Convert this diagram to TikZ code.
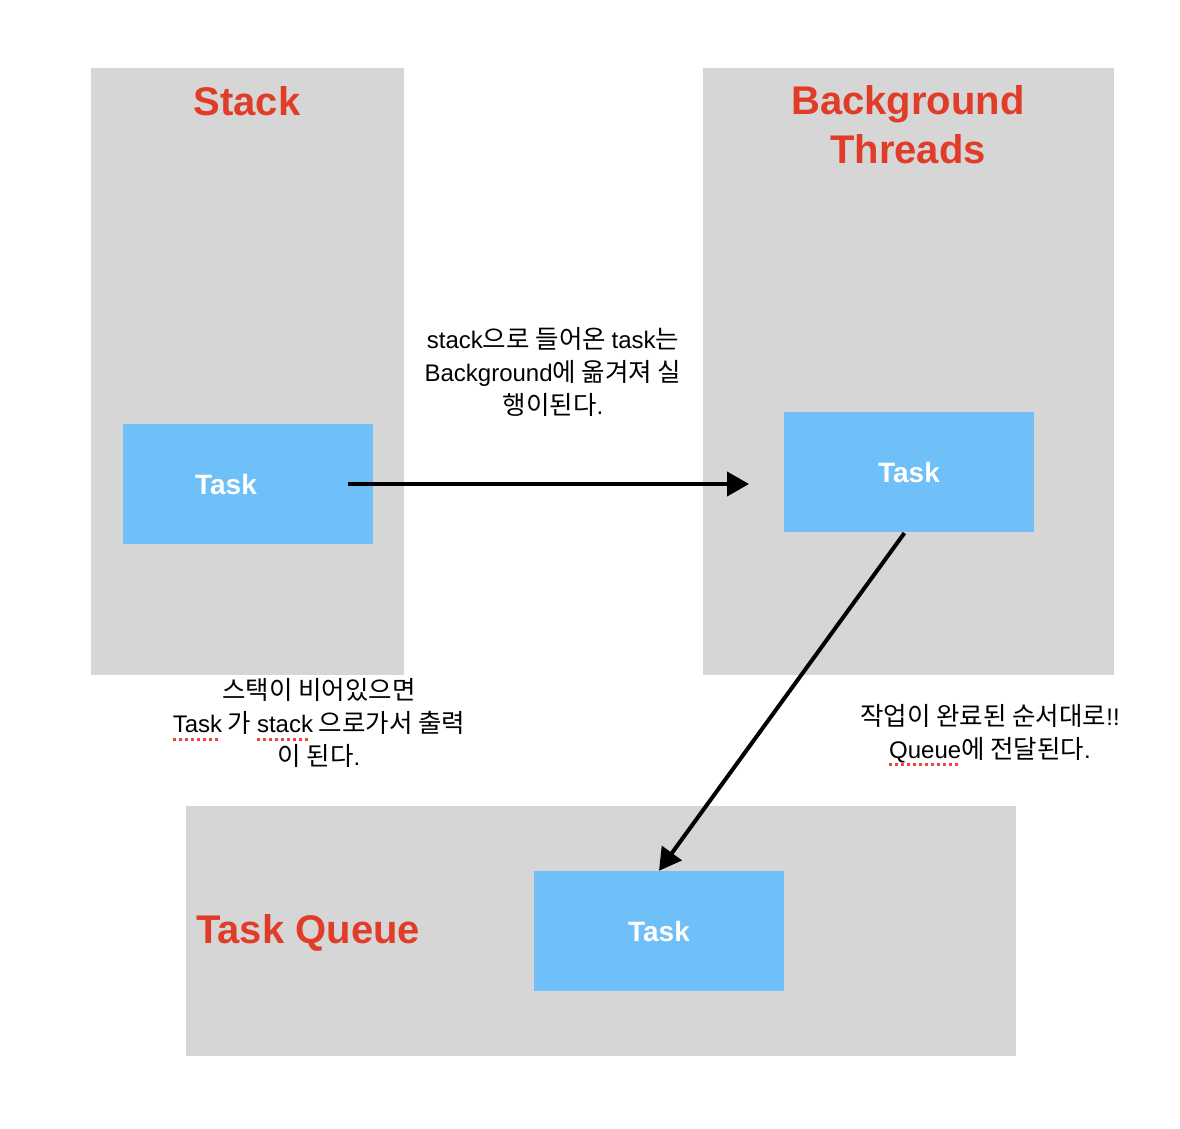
\documentclass[tikz,border=0pt]{standalone}
\usepackage{fontspec}
\setmainfont{Liberation Sans}
\newfontfamily\kr{Noto Sans CJK KR}
\newfontfamily\latfam{Liberation Sans}
\newcommand\lat{\latfam\fontsize{24}{33}\selectfont}
\usetikzlibrary{arrows.meta}
\definecolor{panelgray}{HTML}{D6D6D6}
\definecolor{taskblue}{HTML}{6FBFF8}
\definecolor{titlered}{HTML}{E03C28}
\definecolor{sqred}{HTML}{E8493C}
\newcommand\squig[1]{\setbox0\hbox{#1}\rlap{\raisebox{-8pt}{\hbox to \wd0{\color{sqred}\leaders\hbox{\rule{3pt}{3pt}\hskip3pt}\hfill}}}\box0\relax}
\tikzset{
  panel/.style={fill=panelgray, draw=none},
  taskbox/.style={fill=taskblue, draw=none, minimum width=250pt, minimum height=120pt, inner sep=0pt,
    text=white, font=\fontsize{28}{32}\selectfont\bfseries},
  title/.style={text=titlered, font=\fontsize{40}{49}\selectfont\bfseries, align=center, inner sep=0pt},
  note/.style={font=\kr\fontsize{25.5}{33}\selectfont, align=center, inner sep=0pt, text=black},
  conn/.style={line width=4pt, -{Triangle[length=22pt,width=24pt]}}
}
\begin{document}
\begin{tikzpicture}[x=1pt,y=-1pt]
\useasboundingbox (0,0) rectangle (1180,1128);
\fill[white] (0,0) rectangle (1180,1128);
% panels
\fill[panel] (91,68) rectangle (404,675);
\fill[panel] (703,68) rectangle (1114,675);
\fill[panel] (186,806) rectangle (1016,1056);
% titles
\node[title] (ttl1) at (247,101) {Stack};
\node[title] (ttl2) at (908,125) {Background\\Threads};
\node[title, anchor=west] (ttl3) at (196,933) {Task Queue};
% task boxes
\node[taskbox] (stask) at (248,484) {\hspace*{-44pt}Task};
\node[taskbox] (btask) at (909,472) {Task};
\node[taskbox] (qtask) at (659,931) {Task};
% notes
\node[note] (n1) at (553,372) {{\lat stack}으로 들어온 {\lat task}는\\{\lat Background}에 옮겨져 실\\행이된다{\lat .}};
\node[note] (n2) at (319,723) {스택이 비어있으면\\\squig{\lat Task} 가 \squig{\lat stack} 으로가서 출력\\이 된다{\lat .}};
\node[note] (n3) at (990,735) {작업이 완료된 순서대로{\lat !!}\\\squig{\lat Queue}에 전달된다{\lat .}};
% connectors
\coordinate (a1s) at ([xshift=-25pt]stask.east);
\coordinate (a1e) at (749,484);
\draw[conn] (a1s) -- (a1e);
\draw[conn, shorten <=1pt] ([xshift=-4pt]btask.south) -- (qtask.north);
\end{tikzpicture}
\end{document}
